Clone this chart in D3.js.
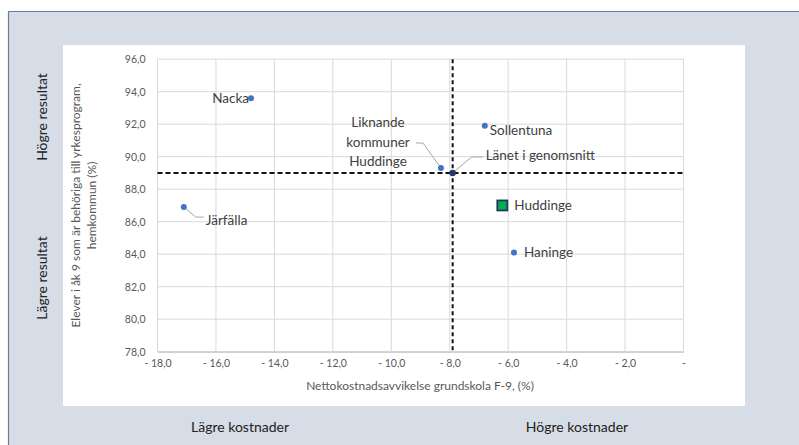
<!DOCTYPE html>
<html><head><meta charset="utf-8">
<script src="https://cdn.jsdelivr.net/npm/d3@7"></script>
<style>
html,body{margin:0;padding:0;background:#fff;}
svg{display:block;font-family:Lato,"Open Sans",sans-serif;}
</style></head>
<body>
<svg id="c" width="799" height="445"></svg>
<script>
const names = ["Nacka","Järfälla","Sollentuna","Liknande kommuner Huddinge","Länet i genomsnitt","Huddinge","Haninge"];
const xValues = [-14.8, -17.1, -6.8, -8.3, -7.9, -6.2, -5.8];
const yValues = [93.6, 86.9, 91.9, 89.3, 89.0, 87.0, 84.1];
const xTicks = [-18,-16,-14,-12,-10,-8,-6,-4,-2,0];
const yTicks = [78,80,82,84,86,88,90,92,94,96];
const avgX = -7.9, avgY = 89.0;

const svg = d3.select("#c");
// panel
svg.append("rect").attr("x",8).attr("y",11).attr("width",799).attr("height",445).attr("fill","#d6dde6");
svg.append("path").attr("d","M8.5,445V11.5H799").attr("fill","none").attr("stroke","#6d7b9a").attr("stroke-width",1.2);
svg.append("rect").attr("x",63).attr("y",45).attr("width",682).attr("height",361).attr("fill","#fff");

const L=157.5,R=683.5,T=59.2,B=351.7;
const x = d3.scaleLinear().domain([-18,0]).range([L,R]);
const y = d3.scaleLinear().domain([78,96]).range([B,T]);

const g = svg.append("g");
// grid
g.selectAll(".vg").data(xTicks).join("line").attr("x1",d=>x(d)).attr("x2",d=>x(d)).attr("y1",T).attr("y2",B).attr("stroke","#d9d9d9").attr("stroke-width",1);
g.selectAll(".hg").data(yTicks).join("line").attr("x1",L).attr("x2",R).attr("y1",d=>y(d)).attr("y2",d=>y(d)).attr("stroke","#d9d9d9").attr("stroke-width",1);

const fmt = v => v===0 ? "-" : (v<0 ? "- " : "") + Math.abs(v).toFixed(1).replace(".",",");
const xAxis = d3.axisBottom(x).tickValues(xTicks).tickFormat(fmt).tickSize(0).tickPadding(8);
const ax = svg.append("g").attr("transform",`translate(0,${B})`).call(xAxis);
ax.select(".domain").attr("stroke","#bfbfbf");
ax.selectAll("text").attr("fill","#595959").attr("font-size",10.5).attr("font-family","Lato,sans-serif");
const yAxis = d3.axisLeft(y).tickValues(yTicks).tickFormat(v=>v.toFixed(1).replace(".",",")).tickSize(0).tickPadding(12);
const ay = svg.append("g").attr("transform",`translate(${L},0)`).call(yAxis);
ay.select(".domain").remove();
ay.selectAll("text").attr("fill","#595959").attr("font-size",10.5).attr("font-family","Lato,sans-serif");

// dashed average lines
svg.append("line").attr("x1",L).attr("x2",R).attr("y1",y(avgY)).attr("y2",y(avgY)).attr("stroke","#111").attr("stroke-width",2).attr("stroke-dasharray","5,3");
svg.append("line").attr("x1",x(avgX)).attr("x2",x(avgX)).attr("y1",T).attr("y2",B).attr("stroke","#111").attr("stroke-width",2).attr("stroke-dasharray","4,3");

// axis titles
svg.append("text").attr("x",420).attr("y",390).attr("text-anchor","middle").attr("fill","#595959").attr("font-size",12).text("Nettokostnadsavvikelse grundskola F-9, (%)");
const yt = svg.append("text").attr("transform",`translate(80,${(T+B)/2}) rotate(-90)`).attr("text-anchor","middle").attr("fill","#595959").attr("font-size",12);
yt.append("tspan").attr("x",0).attr("dy",0).text("Elever i åk 9 som är behöriga till yrkesprogram,");
yt.append("tspan").attr("x",0).attr("dy",16).text("hemkommun (%)");

// outer labels
const outer = (t,xx,yy,rot)=>svg.append("text").attr("transform",`translate(${xx},${yy})`+(rot?" rotate(-90)":"")).attr("text-anchor","middle").attr("fill","#222").attr("font-size",14).text(t);
outer("Högre resultat",47,117,true);
outer("Lägre resultat",47,278,true);
outer("Lägre kostnader",240,432,false);
outer("Högre kostnader",577,432,false);

// leader lines
const ll = (pts)=>svg.append("polyline").attr("points",pts.map(p=>p.join(",")).join(" ")).attr("fill","none").attr("stroke","#a6a6a6").attr("stroke-width",1);
const P = i=>[x(xValues[i]),y(yValues[i])];
ll([P(1),[x(xValues[1])+12,y(yValues[1])+10],[x(xValues[1])+20,y(yValues[1])+10]]);
ll([[416,143],[423,143],P(3)]);
ll([P(4),[x(xValues[4])+19,y(yValues[4])-16],[x(xValues[4])+30,y(yValues[4])-16]]);

// points
svg.selectAll(".pt").data([0,1,2,3,4,6]).join("circle").attr("cx",i=>x(xValues[i])).attr("cy",i=>y(yValues[i])).attr("r",i=>i===4?3.2:3).attr("fill",i=>i===4?"#1f3a70":"#4472c4");
svg.append("rect").attr("x",x(xValues[5])-5).attr("y",y(yValues[5])-5).attr("width",10).attr("height",10).attr("fill","#00b050").attr("stroke","#1f3864").attr("stroke-width",1.8);

// data labels
const lab=(t,xx,yy,anchor)=>svg.append("text").attr("x",xx).attr("y",yy).attr("text-anchor",anchor||"start").attr("fill","#404040").attr("font-size",13.5).attr("dominant-baseline","middle").text(t);
lab("Nacka",x(xValues[0])-2,y(yValues[0])+1,"end");
lab("Järfälla",x(xValues[1])+22,y(yValues[1])+15);
lab("Sollentuna",x(xValues[2])+5,y(yValues[2])+6);
lab("Liknande",378,124,"middle");
lab("kommuner",378,144,"middle");
lab("Huddinge",378,163,"middle");
lab("Länet i genomsnitt",x(xValues[4])+33,y(yValues[4])-16);
lab("Huddinge",x(xValues[5])+12,y(yValues[5])+1);
lab("Haninge",x(xValues[6])+10,y(yValues[6])+1);
</script>
</body></html>
